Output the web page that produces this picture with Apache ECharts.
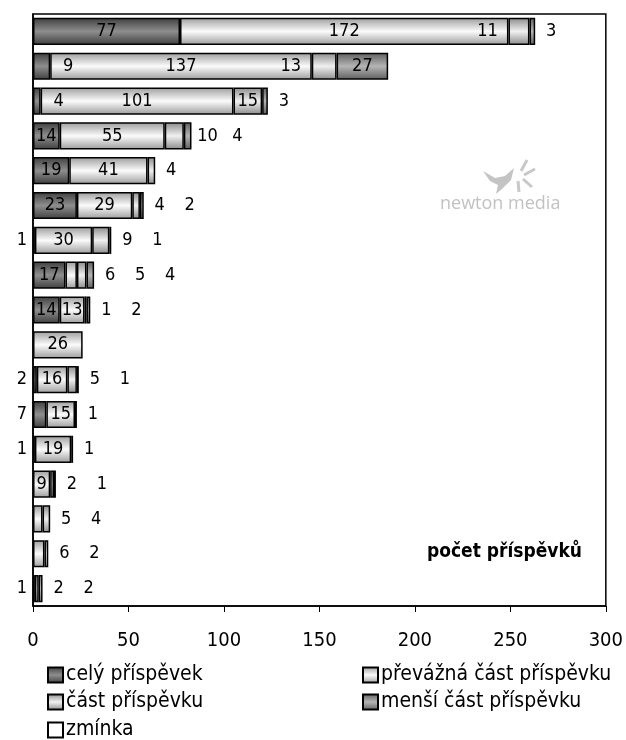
<!DOCTYPE html>
<html>
<head>
<meta charset="utf-8">
<script src="https://cdn.jsdelivr.net/npm/echarts@6/dist/echarts.min.js"></script>
<style>html,body{margin:0;padding:0;background:#fff}#c{width:626px;height:740px}</style>
</head>
<body>
<div id="c"></div>
<script>
// ---- data ----
const categories = ['1','2','3','4','5','6','7','8','9','10','11','12','13','14','15','16','17'];
const seriesNames = ['celý příspěvek','převážná část příspěvku','část příspěvku','menší část příspěvku','zmínka'];
const celyPrispevek     = [77, 9, 4, 14, 19, 23, 1, 17, 14, 0, 2, 7, 1, 0, 0, 0, 1];
const prevaznaCast      = [172, 137, 101, 55, 41, 29, 30, 6, 13, 26, 16, 15, 19, 9, 5, 6, 2];
const castPrispevku     = [11, 13, 15, 10, 4, 4, 9, 5, 1, 0, 5, 1, 1, 2, 4, 2, 2];
const mensiCast         = [3, 27, 3, 4, 0, 2, 1, 4, 2, 0, 1, 0, 0, 1, 0, 0, 0];
const zminka            = [0, 0, 0, 0, 0, 0, 0, 0, 0, 0, 0, 0, 0, 0, 0, 0, 0];
const xTicks = [0, 50, 100, 150, 200, 250, 300];

// ---- layout (label placement hints: c=center, L=left of axis, A=after segment, B=before segment, O=outside after bar) ----
const labelModes = [
  ['c','A','A','c','c','c','L','c','c','c','L','L','L','c','c','c','L'],
  ['c','c','c','c','c','c','c','O','c','c','c','c','c','c','O','O','O'],
  ['B','B','c','O','O','O','O','O','O','O','O','O','O','O','O','O','O'],
  ['O','c','O','O','O','O','O','O','O','O','O','O','O','O','O','O','O'],
  ['O','O','O','O','O','O','O','O','O','O','O','O','O','O','O','O','O']
];
// legend slot positions [left, top]
const legendSlots = [[47, 664], [362, 664], [47, 691], [362, 691], [47, 719]];
const FONT = "'DejaVu Sans Condensed','DejaVu Sans',sans-serif";
const GRID = {left: 33, right: 20, top: 14, bottom: 134};
const plotW = 626 - GRID.left - GRID.right;
const pxPerUnit = plotW / xTicks[xTicks.length - 1];

const allSeries = [celyPrispevek, prevaznaCast, castPrispevku, mensiCast, zminka];

function grad(edge, mid) {
  return new echarts.graphic.LinearGradient(0, 0, 0, 1, [
    {offset: 0, color: edge}, {offset: 0.5, color: mid}, {offset: 1, color: edge}
  ]);
}
const fills = [
  grad('#3e3e3e', '#8e8e8e'),
  grad('#9c9c9c', '#fbfbfb'),
  grad('#8a8a8a', '#f0f0f0'),
  grad('#5e5e5e', '#b4b4b4'),
  '#ffffff'
];

const totals = categories.map((_, r) => allSeries.reduce((a, s) => a + s[r], 0));
const slotCount = categories.map(() => 0);

const series = allSeries.map((vals, si) => {
  const data = vals.map((v, r) => {
    if (!v) return '-';
    const start = allSeries.slice(0, si).reduce((a, s) => a + s[r], 0);
    const mode = labelModes[si][r];
    const w = v * pxPerUnit;
    let label = {};
    if (mode === 'L') {
      label = {position: [-6, '50%'], align: 'right', verticalAlign: 'middle'};
    } else if (mode === 'A') {
      label = {position: [w + 18, '50%'], align: 'center', verticalAlign: 'middle'};
    } else if (mode === 'B') {
      label = {position: [-21, '50%'], align: 'center', verticalAlign: 'middle'};
    } else if (mode === 'O') {
      const k = slotCount[r]++;
      const off = (totals[r] - start) * pxPerUnit + 16 + 30 * k;
      label = {position: [off, '50%'], align: 'center', verticalAlign: 'middle'};
    }
    return {value: v, label: label};
  });
  return {
    name: seriesNames[si],
    type: 'bar',
    stack: 'total',
    barCategoryGap: '22%',
    data: data,
    itemStyle: {color: fills[si], borderColor: '#000', borderWidth: 1.5},
    label: {show: true, position: 'inside', color: '#000', fontSize: 18, fontFamily: FONT},
    emphasis: {disabled: true},
    animation: false
  };
});

const legends = seriesNames.map((n, i) => ({
  data: [n], orient: 'horizontal', left: legendSlots[i][0], top: legendSlots[i][1],
  icon: 'rect', itemWidth: 15, itemHeight: 15, itemGap: 0, selectedMode: false, padding: 0,
  textStyle: {color: '#000', fontSize: 21, fontFamily: FONT, lineHeight: 22, padding: [0, 0, 0, -2]}
}));

const chart = echarts.init(document.getElementById('c'), null, {renderer: 'canvas'});
chart.setOption({
  animation: false,
  backgroundColor: '#fff',
  grid: Object.assign({show: true, borderColor: '#000', borderWidth: 1.5, backgroundColor: 'transparent'}, GRID),
  xAxis: {
    type: 'value', min: xTicks[0], max: xTicks[xTicks.length - 1], interval: xTicks[1] - xTicks[0],
    splitLine: {show: false},
    axisLine: {show: true, lineStyle: {color: '#000', width: 1.5}},
    axisTick: {show: true, inside: false, length: 6, lineStyle: {color: '#000'}},
    axisLabel: {color: '#000', fontSize: 20, fontFamily: FONT, margin: 25}
  },
  yAxis: {
    type: 'category', data: categories, inverse: true,
    axisLine: {show: true, lineStyle: {color: '#000', width: 1.5}},
    axisTick: {show: false}, axisLabel: {show: false}
  },
  legend: legends,
  graphic: [
    {type: 'text', right: 44, top: 543, style: {text: 'počet příspěvků', fontSize: 19, fontWeight: 'bold', fontFamily: FONT, fill: '#000'}},
    {type: 'text', left: 440, top: 195, style: {text: 'newton media', fontSize: 18, fontFamily: "'Open Sans',sans-serif", fill: '#c2c2c2'}},
    {type: 'polygon', shape: {points: [[483,171],[495,178],[505,176],[514,168],[511,180],[503,188],[496,194],[498,185],[490,181]]}, style: {fill: '#c4c4c4'}},
    {type: 'line', shape: {x1: 521, y1: 171, x2: 527, y2: 160}, style: {stroke: '#c8c8c8', lineWidth: 3}},
    {type: 'line', shape: {x1: 524, y1: 175, x2: 535, y2: 169}, style: {stroke: '#c8c8c8', lineWidth: 3}},
    {type: 'line', shape: {x1: 523, y1: 179, x2: 532, y2: 187}, style: {stroke: '#c8c8c8', lineWidth: 3}},
    {type: 'line', shape: {x1: 518, y1: 181, x2: 519, y2: 192}, style: {stroke: '#c8c8c8', lineWidth: 3}}
  ],
  series: series
});
</script>
</body>
</html>
